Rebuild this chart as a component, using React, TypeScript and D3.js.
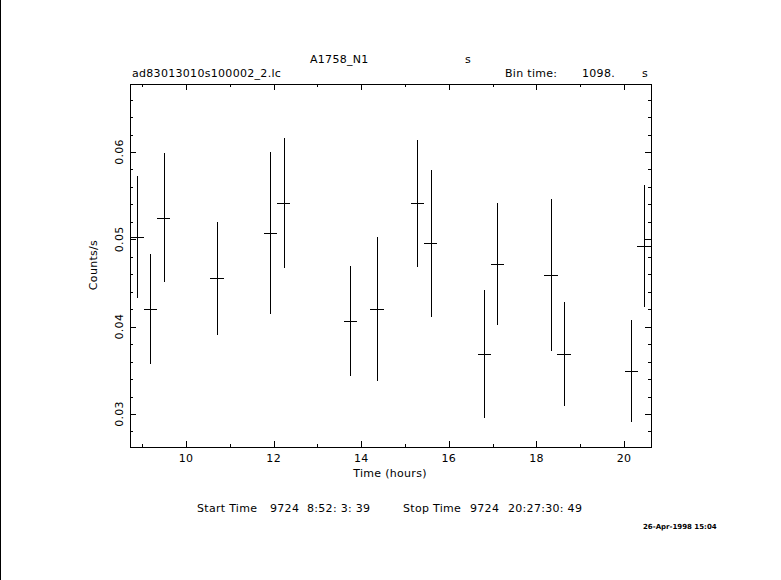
import React, { useEffect, useRef } from 'react';
import * as d3 from 'd3';

// light curve bins (hours, counts/s, 1-sigma error)
const times = [8.881, 9.187, 9.491, 10.708, 11.922, 12.231, 13.749, 14.361, 15.279, 15.587, 16.808, 17.11, 18.333, 18.63, 20.164, 20.457];
const counts = [0.05026, 0.04202, 0.05247, 0.04553, 0.05069, 0.05412, 0.04061, 0.04198, 0.05412, 0.04954, 0.03683, 0.04717, 0.04588, 0.03683, 0.03491, 0.04923];
const errors = [0.00697, 0.00627, 0.00737, 0.00645, 0.00926, 0.00745, 0.0063, 0.00825, 0.00726, 0.00842, 0.00732, 0.00697, 0.00869, 0.00594, 0.00582, 0.00697];

const binTime = 1098; // seconds
const xMajor = [10, 12, 14, 16, 18, 20];
const xMinor = [9, 11, 13, 15, 17, 19];
const yMajor = [0.03, 0.04, 0.05, 0.06];
const yMinor = [0.028, 0.032, 0.034, 0.036, 0.038, 0.042, 0.044, 0.046, 0.048, 0.052, 0.054, 0.056, 0.058, 0.062, 0.064, 0.066];

const W = 781;
const H = 580;
const FONT = 'DejaVu Sans, sans-serif';

const App: React.FC = () => {
  const svgRef = useRef<SVGSVGElement>(null);

  useEffect(() => {
    if (!svgRef.current) return;
    const svg = d3.select(svgRef.current);
    svg.selectAll('*').remove();

    const left = 130, right = 651, top = 84, bottom = 447;

    const x = d3.scaleLinear().domain([8.72, 20.615]).range([left, right]);
    const y = d3.scaleLinear().domain([0.02622, 0.06779]).range([bottom, top]);
    const px = (v: number) => Math.round(v) + 0.5;

    svg.append('rect').attr('width', W).attr('height', H).attr('fill', '#fff');
    // page edge line
    svg.append('line').attr('x1', 0.5).attr('x2', 0.5).attr('y1', 0).attr('y2', H)
      .attr('stroke', '#000').attr('stroke-width', 1);

    const g = svg.append('g').attr('shape-rendering', 'crispEdges');

    // Frame
    g.append('rect')
      .attr('x', left + 0.5).attr('y', top + 0.5)
      .attr('width', right - left).attr('height', bottom - top)
      .attr('fill', 'none').attr('stroke', '#000').attr('stroke-width', 1);

    // ticks on all four sides, pointing inward
    const tickLine = (x1: number, y1: number, x2: number, y2: number) =>
      g.append('line').attr('x1', x1).attr('y1', y1).attr('x2', x2).attr('y2', y2)
        .attr('stroke', '#000').attr('stroke-width', 1);

    xMajor.forEach(t => {
      tickLine(px(x(t)), bottom, px(x(t)), bottom - 6);
      tickLine(px(x(t)), top, px(x(t)), top + 6);
    });
    xMinor.forEach(t => {
      tickLine(px(x(t)), bottom, px(x(t)), bottom - 3);
      tickLine(px(x(t)), top, px(x(t)), top + 3);
    });
    yMajor.forEach(t => {
      tickLine(left, px(y(t)), left + 6, px(y(t)));
      tickLine(right, px(y(t)), right - 6, px(y(t)));
    });
    yMinor.forEach(t => {
      tickLine(left, px(y(t)), left + 3, px(y(t)));
      tickLine(right, px(y(t)), right - 3, px(y(t)));
    });

    // tick labels
    const txt = svg.append('g')
      .attr('font-family', FONT).attr('font-size', 11)
      .attr('letter-spacing', 0.3).attr('fill', '#000');
    txt.selectAll('.xl').data(xMajor).enter().append('text')
      .attr('x', d => x(d)).attr('y', 462)
      .attr('text-anchor', 'middle')
      .text(d => String(d));
    txt.selectAll('.yl').data(yMajor).enter().append('text')
      .attr('transform', d => `translate(123,${y(d)}) rotate(-90)`)
      .attr('text-anchor', 'middle')
      .text(d => d3.format('.2f')(d));

    // axis titles
    txt.append('text').attr('x', 390).attr('y', 477).attr('text-anchor', 'middle').text('Time (hours)');
    txt.append('text').attr('transform', 'translate(97,265) rotate(-90)').attr('text-anchor', 'middle').text('Counts/s');

    // header
    txt.append('text').attr('x', 310).attr('y', 63).text('A1758_N1');
    txt.append('text').attr('x', 465).attr('y', 63).text('s');
    txt.append('text').attr('x', 132).attr('y', 77).text('ad83013010s100002_2.lc');
    txt.append('text').attr('x', 505).attr('y', 77).text('Bin time:');
    txt.append('text').attr('x', 582).attr('y', 77).text(`${binTime}.`);
    txt.append('text').attr('x', 642).attr('y', 77).text('s');

    // footer
    const foot: [number, string][] = [
      [197, 'Start Time'], [270, '9724'], [307, '8:52: 3: 39'],
      [403, 'Stop Time'], [470, '9724'], [508, '20:27:30: 49'],
    ];
    foot.forEach(([fx, s]) => txt.append('text').attr('x', fx).attr('y', 512).text(s));
    svg.append('text').attr('x', 643).attr('y', 529)
      .attr('font-family', FONT).attr('font-size', 7).attr('font-weight', 'bold')
      .text('26-Apr-1998 15:04');

    // data with error bars
    const half = binTime / 3600 / 2;
    const idx = d3.range(times.length);
    const bars = g.append('g').attr('stroke', '#000').attr('stroke-width', 1);
    bars.selectAll('.ev').data(idx).enter().append('line')
      .attr('x1', i => px(x(times[i]))).attr('x2', i => px(x(times[i])))
      .attr('y1', i => y(counts[i] + errors[i])).attr('y2', i => y(counts[i] - errors[i]));
    bars.selectAll('.eh').data(idx).enter().append('line')
      .attr('x1', i => Math.max(left, x(times[i] - half)))
      .attr('x2', i => Math.min(right, x(times[i] + half)))
      .attr('y1', i => px(y(counts[i]))).attr('y2', i => px(y(counts[i])));
  }, []);

  return (
    <div style={{ position: 'absolute', left: 0, top: 0 }}>
      <svg ref={svgRef} width={W} height={H} style={{ display: 'block' }} />
    </div>
  );
};

export default App;
